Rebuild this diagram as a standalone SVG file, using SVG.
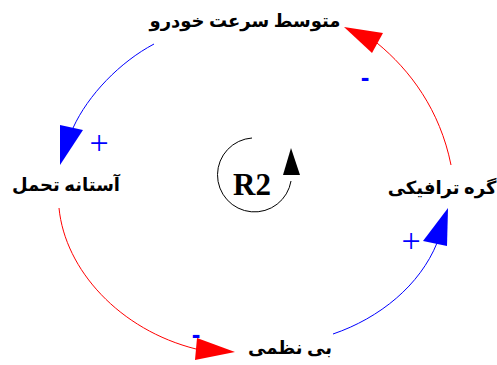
<svg xmlns="http://www.w3.org/2000/svg" width="497" height="365" viewBox="0 0 497 365">
<style>
.lbl{font-family:"Liberation Serif","DejaVu Sans",serif;font-weight:bold;font-size:18px;fill:#000;direction:rtl}
.plus{font-family:"Liberation Serif",serif;font-size:34px;fill:#0000ff}
.minus{font-family:"Liberation Sans",sans-serif;font-weight:bold;font-size:26px;fill:#0000ff}
.pos{fill:none;stroke:#0000ff;stroke-width:1}
.neg{fill:none;stroke:#ff0000;stroke-width:1}
.hb{fill:#0000ff}
.hr{fill:#ff0000}
</style>
<rect width="497" height="365" fill="#fff"/>
<g id="n1"><text class="lbl" x="245" y="27" text-anchor="middle">متوسط سرعت خودرو</text></g>
<g id="n2"><text class="lbl" x="66" y="191" text-anchor="middle">آستانه تحمل</text></g>
<g id="n3"><text class="lbl" x="442" y="194" text-anchor="middle">گره ترافیکی</text></g>
<g id="n4"><text class="lbl" x="290" y="354" text-anchor="middle">بی نظمی</text></g>
<g id="loop">
<path d="M252,138 A37,37 0 1 0 291,181" fill="none" stroke="#000" stroke-width="1"/>
<polygon points="291,148 283,175 300,175" fill="#000"/>
<text x="252" y="195" text-anchor="middle" style="font-family:'Liberation Serif',serif;font-weight:bold;font-size:31px">R2</text>
</g>
<g id="connectors">
<path class="pos" d="M154,44 C120,62 88,95 73,128"/>
<polygon class="hb" points="60,125 83,130 60,165"/>
<path class="neg" d="M59,208 C65,270 120,330 196,349"/>
<polygon class="hr" points="197,338 235,352 195,360"/>
<path class="pos" d="M333,334 C380,318 420,285 437,243"/>
<polygon class="hb" points="448,208 423,241 447,246"/>
<path class="neg" d="M451,165 C440,110 410,70 377,43"/>
<polygon class="hr" points="344,27 383,33 372,53"/>
<text class="plus" x="99" y="154" text-anchor="middle">+</text>
<text class="plus" x="411" y="252" text-anchor="middle">+</text>
<text class="minus" x="365" y="86" text-anchor="middle">-</text>
<text class="minus" x="196" y="343" text-anchor="middle">-</text>
</g>
</svg>
